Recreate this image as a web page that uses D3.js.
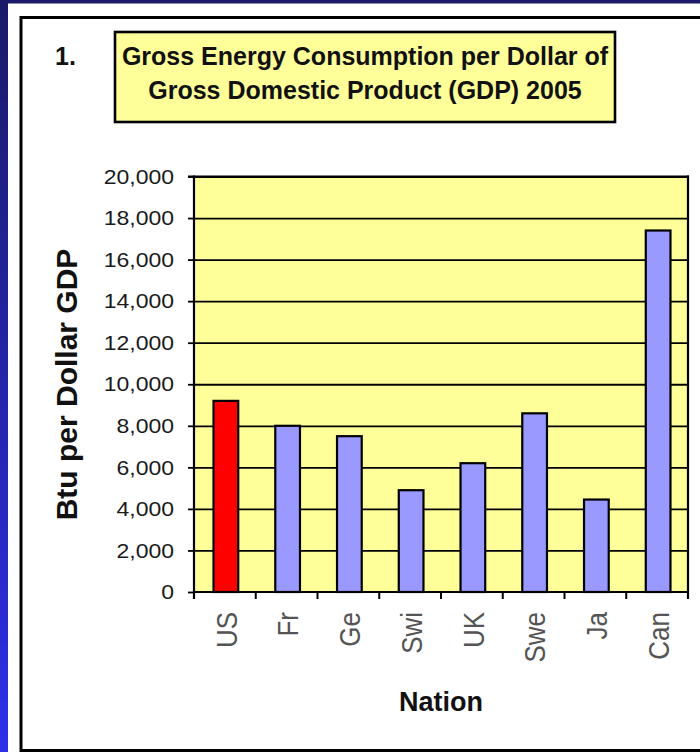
<!DOCTYPE html>
<html>
<head>
<meta charset="utf-8">
<script src="https://cdn.jsdelivr.net/npm/d3@7"></script>
<style>
  html, body { margin: 0; padding: 0; background: #fff; }
  svg { display: block; }
  text { font-family: "Liberation Sans", Arial, sans-serif; }
</style>
</head>
<body>
<svg id="chart" width="700" height="752"></svg>
<script>
// Gross energy consumption per dollar of GDP, 2005 (Btu per dollar)
const nations = ["US", "Fr", "Ge", "Swi", "UK", "Swe", "Ja", "Can"];
const btuPerDollar = [9200, 8000, 7500, 4900, 6200, 8600, 4450, 17400];
const yTickValues = [0, 2000, 4000, 6000, 8000, 10000, 12000, 14000, 16000, 18000, 20000];
const highlightNation = "US";

const titleLines = ["Gross Energy Consumption per Dollar of", "Gross Domestic Product (GDP) 2005"];
const itemNumber = "1.";
const yAxisTitle = "Btu per Dollar GDP";
const xAxisTitle = "Nation";

const W = 700, H = 752;
const plot = { left: 194, right: 688, top: 176.5, bottom: 592 };
const SX = 1.15; // horizontal stretch used for the small labels

const svg = d3.select("#chart");
const defs = svg.append("defs");

// slide background: navy fading to bright blue towards the bottom
const grad = defs.append("linearGradient")
  .attr("id", "slideBg").attr("x1", 0).attr("y1", 0).attr("x2", 0).attr("y2", 1);
grad.append("stop").attr("offset", "0%").attr("stop-color", "#1a1a68");
grad.append("stop").attr("offset", "100%").attr("stop-color", "#2f2fea");

svg.append("rect").attr("width", W).attr("height", H).attr("fill", "url(#slideBg)");
svg.append("rect").attr("x", 8).attr("y", 3.5).attr("width", W - 8).attr("height", H - 3.5).attr("fill", "#fff");

// framed panel
svg.append("rect")
  .attr("x", 21).attr("y", 17.5).attr("width", W + 10).attr("height", 750.5 - 17.5)
  .attr("fill", "none").attr("stroke", "#000").attr("stroke-width", 3);

// item number and title box
svg.append("text")
  .attr("x", 55).attr("y", 65)
  .attr("font-size", 25).attr("font-weight", "bold").attr("fill", "#111")
  .text(itemNumber);

svg.append("rect")
  .attr("x", 115).attr("y", 32).attr("width", 500).attr("height", 90)
  .attr("fill", "#ffff99").attr("stroke", "#000").attr("stroke-width", 2.6);

svg.append("g").selectAll("text").data(titleLines).join("text")
  .attr("x", 365).attr("y", (d, i) => 65 + i * 34.3)
  .attr("text-anchor", "middle")
  .attr("font-size", 25).attr("font-weight", "bold").attr("fill", "#111")
  .text(d => d);

// scales
const x = d3.scaleBand().domain(nations).range([plot.left, plot.right]).padding(0);
const y = d3.scaleLinear().domain([0, 20000]).range([plot.bottom, plot.top]);

// plot area
svg.append("rect")
  .attr("x", plot.left).attr("y", plot.top)
  .attr("width", plot.right - plot.left).attr("height", plot.bottom - plot.top)
  .attr("fill", "#ffff99");

// horizontal gridlines
svg.append("g")
  .attr("transform", `translate(${plot.left},0)`)
  .call(d3.axisLeft(y).tickValues(yTickValues.filter(v => v > 0))
    .tickSize(-(plot.right - plot.left)).tickFormat(""))
  .call(g => g.select(".domain").remove())
  .call(g => g.selectAll("line").attr("stroke", "#000").attr("stroke-width", 1.8));

// bars
const barFrac = 0.4;
svg.append("g").selectAll("rect")
  .data(nations.map((n, i) => ({ n, v: btuPerDollar[i] })))
  .join("rect")
  .attr("x", d => x(d.n) + x.bandwidth() * (1 - barFrac) / 2 + 1)
  .attr("width", x.bandwidth() * barFrac)
  .attr("y", d => y(d.v))
  .attr("height", d => y(0) - y(d.v))
  .attr("fill", d => d.n === highlightNation ? "#ff0000" : "#9999ff")
  .attr("stroke", "#000").attr("stroke-width", 2.2);

// y axis: outward ticks + labels
svg.append("g")
  .attr("transform", `translate(${plot.left},0)`)
  .call(d3.axisLeft(y).tickValues(yTickValues).tickSize(6).tickFormat(""))
  .call(g => g.select(".domain").remove())
  .call(g => g.selectAll("line").attr("stroke", "#000").attr("stroke-width", 1.8));

svg.append("g").selectAll("g").data(yTickValues).join("g")
  .attr("transform", d => `translate(174,${y(d)}) scale(${SX},1)`)
  .append("text")
  .attr("text-anchor", "end").attr("dy", "0.36em")
  .attr("font-size", 20).attr("fill", "#1a1a1a")
  .text(d => d3.format(",")(d));

// x axis: boundary ticks between categories
const bounds = d3.range(nations.length + 1).map(i => plot.left + i * x.step());
svg.append("g").selectAll("line").data(bounds).join("line")
  .attr("x1", d => d).attr("x2", d => d)
  .attr("y1", plot.bottom).attr("y2", plot.bottom + 7)
  .attr("stroke", "#000").attr("stroke-width", 2);

// plot frame
svg.append("line")
  .attr("x1", plot.left).attr("x2", plot.left).attr("y1", plot.top - 1).attr("y2", plot.bottom + 7)
  .attr("stroke", "#000").attr("stroke-width", 2.2);
svg.append("line")
  .attr("x1", plot.left).attr("x2", plot.right).attr("y1", plot.bottom).attr("y2", plot.bottom)
  .attr("stroke", "#000").attr("stroke-width", 2.2);
svg.append("line")
  .attr("x1", plot.right).attr("x2", plot.right).attr("y1", plot.top - 1).attr("y2", plot.bottom + 7)
  .attr("stroke", "#000").attr("stroke-width", 2.2);
svg.append("line")
  .attr("x1", plot.left - 6).attr("x2", plot.right + 1).attr("y1", plot.top).attr("y2", plot.top)
  .attr("stroke", "#000").attr("stroke-width", 2);

// rotated category labels
svg.append("g").selectAll("g").data(nations).join("g")
  .attr("transform", d => `translate(${x(d) + x.bandwidth() / 2 + 1},612) scale(${SX},1) rotate(-90)`)
  .append("text")
  .attr("text-anchor", "end").attr("dy", "0.36em")
  .attr("font-size", 26).attr("fill", "#555")
  .text(d => d);

// axis titles
svg.append("text")
  .attr("transform", `translate(66.5,384.5) rotate(-90)`)
  .attr("text-anchor", "middle").attr("dy", "0.36em")
  .attr("font-size", 30).attr("font-weight", "bold").attr("fill", "#111")
  .text(yAxisTitle);

svg.append("text")
  .attr("x", (plot.left + plot.right) / 2).attr("y", 710.5)
  .attr("text-anchor", "middle")
  .attr("font-size", 27).attr("font-weight", "bold").attr("fill", "#111")
  .text(xAxisTitle);
</script>
</body>
</html>
